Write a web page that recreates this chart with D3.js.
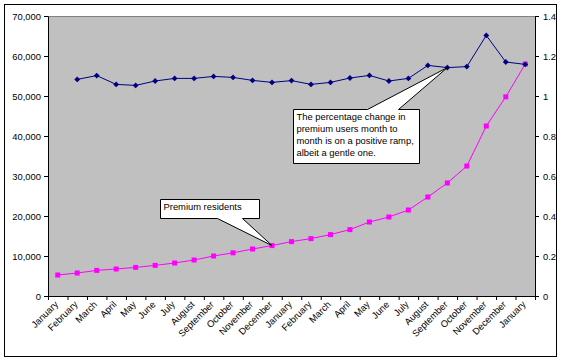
<!DOCTYPE html>
<html>
<head>
<meta charset="utf-8">
<script src="https://cdn.jsdelivr.net/npm/d3@7"></script>
<style>
  body { margin: 0; background: #fff; }
  text { font-family: "Liberation Sans", Arial, sans-serif; font-size: 9.4px; fill: #000; }
</style>
</head>
<body>
<script>
// premium residents per month, and month to month ratio

// x categories
var months = ["January", "February", "March", "April", "May", "June", "July",
              "August", "September", "October", "November", "December",
              "January", "February", "March", "April", "May", "June", "July",
              "August", "September", "October", "November", "December", "January"]

// premium residents (left axis)
var premium = [5250, 5750, 6400, 6750, 7150, 7650, 8250, 9000, 10000, 10800,
               11750, 12600, 13600, 14350, 15350, 16600, 18500, 19750, 21500,
               24750, 28250, 32500, 42500, 49800, 58000]

// percentage change, starts at the second month (right axis)
var change = [1.083, 1.102, 1.058, 1.053, 1.075, 1.088, 1.088, 1.098, 1.093,
              1.078, 1.068, 1.077, 1.058, 1.068, 1.09, 1.103, 1.075, 1.088,
              1.153, 1.142, 1.147, 1.303, 1.17, 1.158]

// tick labels
var leftTicks = [0, 10000, 20000, 30000, 40000, 50000, 60000, 70000]
var rightTicks = [0, 0.2, 0.4, 0.6, 0.8, 1, 1.2, 1.4]

// callout texts
var noteChange = ["The percentage change in", "premium users month to",
                  "month is on a positive ramp,", "albeit a gentle one."]
var notePremium = ["Premium residents"]

// define width and height
var w = 566
var h = 361
var plot = {left: 48, right: 535, top: 16, bottom: 296}

var svg = d3.select("body")
            .append("svg")
            .attr("width", w)
            .attr("height", h)

// outer chart border
svg.append("rect")
   .attr("x", 4.5)
   .attr("y", 4.5)
   .attr("width", 552)
   .attr("height", 352)
   .attr("fill", "#fff")
   .attr("stroke", "#000")

// gray plot area
svg.append("rect")
   .attr("x", plot.left + 0.5)
   .attr("y", plot.top + 0.5)
   .attr("width", plot.right - plot.left)
   .attr("height", plot.bottom - plot.top)
   .attr("fill", "#c0c0c0")
   .attr("stroke", "#808080")

// scales
var xScale = d3.scaleBand()
               .domain(d3.range(months.length))
               .range([plot.left, plot.right])
var xTicks = d3.scaleLinear()
               .domain([0, months.length])
               .range([plot.left, plot.right])
var yLeft = d3.scaleLinear()
              .domain([0, 70000])
              .range([plot.bottom, plot.top])
var yRight = d3.scaleLinear()
               .domain([0, 1.4])
               .range([plot.bottom, plot.top])

function cx(i) {
  return xScale(i) + xScale.bandwidth() / 2
}

// axes
svg.append("g")
   .attr("transform", "translate(" + plot.left + ",0)")
   .call(d3.axisLeft(yLeft).tickValues(leftTicks).tickFormat(d3.format(","))
           .tickSize(4).tickSizeOuter(0).tickPadding(3))

svg.append("g")
   .attr("transform", "translate(" + plot.right + ",0)")
   .call(d3.axisRight(yRight).tickValues(rightTicks).tickFormat(function(d) { return +d.toFixed(1) })
           .tickSize(4).tickSizeOuter(0).tickPadding(4))

svg.append("g")
   .attr("transform", "translate(0," + plot.bottom + ")")
   .call(d3.axisBottom(xTicks).tickValues(d3.range(months.length + 1)).tickFormat("")
           .tickSize(4).tickSizeOuter(0))

svg.selectAll("path.domain, .tick line").attr("stroke", "#000")
svg.selectAll(".tick text").style("font-size", "9.4px").attr("fill", "#000")

// month labels, rotated
svg.selectAll(".month")
   .data(months)
   .enter()
   .append("text")
   .attr("class", "month")
   .attr("text-anchor", "end")
   .attr("transform", function(d, i) {
     return "translate(" + (cx(i) + 1) + "," + (plot.bottom + 9) + ") rotate(-45)"
   })
   .text(function(d) { return d })

// premium line and squares
svg.append("path")
   .datum(premium)
   .attr("fill", "none")
   .attr("stroke", "#ff00ff")
   .attr("stroke-width", 1)
   .attr("d", d3.line()
                .x(function(d, i) { return cx(i) })
                .y(function(d) { return yLeft(d) }))

svg.selectAll(".sq")
   .data(premium)
   .enter()
   .append("path")
   .attr("class", "sq")
   .attr("fill", "#ff00ff")
   .attr("transform", function(d, i) { return "translate(" + cx(i) + "," + yLeft(d) + ")" })
   .attr("d", d3.symbol(d3.symbolSquare, 25))

// percentage change line and diamonds
svg.append("path")
   .datum(change)
   .attr("fill", "none")
   .attr("stroke", "#000080")
   .attr("stroke-width", 1)
   .attr("d", d3.line()
                .x(function(d, i) { return cx(i + 1) })
                .y(function(d) { return yRight(d) }))

svg.selectAll(".dm")
   .data(change)
   .enter()
   .append("path")
   .attr("class", "dm")
   .attr("fill", "#000080")
   .attr("transform", function(d, i) { return "translate(" + cx(i + 1) + "," + yRight(d) + ")" })
   .attr("d", d3.symbol(d3.symbolDiamond2, 22))

// callout with the pointer on the top edge
function calloutTop(tx, ty, bx, by, bw, bh, p1, p2, lines) {
  var g = svg.append("g")
  g.append("path")
   .attr("fill", "#fff")
   .attr("stroke", "#000")
   .attr("d", "M" + bx + "," + by + "H" + (bx + p1) + "L" + tx + "," + ty +
              "L" + (bx + p2) + "," + by + "H" + (bx + bw) + "V" + (by + bh) +
              "H" + bx + "Z")
  g.selectAll("text")
   .data(lines)
   .enter()
   .append("text")
   .attr("x", bx + 3)
   .attr("y", function(d, i) { return by + 10.5 + i * 12 })
   .text(function(d) { return d })
}

// callout with the pointer on the bottom edge
function calloutBottom(tx, ty, bx, by, bw, bh, p1, p2, lines) {
  var g = svg.append("g")
  g.append("path")
   .attr("fill", "#fff")
   .attr("stroke", "#000")
   .attr("d", "M" + bx + "," + by + "H" + (bx + bw) + "V" + (by + bh) +
              "H" + (bx + p2) + "L" + tx + "," + ty + "L" + (bx + p1) + "," + (by + bh) +
              "H" + bx + "Z")
  g.selectAll("text")
   .data(lines)
   .enter()
   .append("text")
   .attr("x", bx + 3)
   .attr("y", function(d, i) { return by + 10 + i * 12 })
   .text(function(d) { return d })
}

var t1x = cx(20), t1y = yRight(change[19])
calloutTop(t1x, t1y, Math.round(t1x - 154) + 0.5, Math.round(t1y + 41) + 0.5, 126, 54, 74, 105, noteChange)

var t2x = cx(11), t2y = yLeft(premium[11])
calloutBottom(t2x, t2y, Math.round(t2x - 112) + 0.5, Math.round(t2y - 47) + 0.5, 99, 19, 57, 82, notePremium)
</script>
</body>
</html>
